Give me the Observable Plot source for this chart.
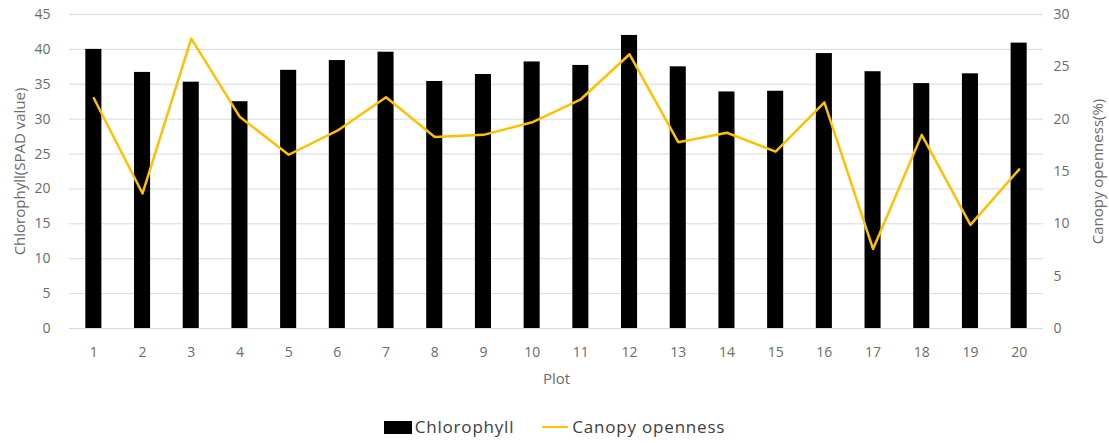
<!DOCTYPE html>
<html>
<head>
<meta charset="utf-8">
<script src="https://cdn.jsdelivr.net/npm/d3@7"></script>
<script src="https://cdn.jsdelivr.net/npm/@observablehq/plot@0.6"></script>
<style>
  body { margin: 0; background: #fff; font-family: "Open Sans", sans-serif; }
  #legend { height: 43px; box-sizing: border-box; padding-top: 17px; display: flex; justify-content: center; align-items: flex-start; font-size: 17px; letter-spacing: 0.8px; color: #404040; line-height: 20px; }
  #legend .item { display: flex; align-items: center; margin: 0 14px; }
  #legend .sw-bar { width: 28px; height: 13px; background: #000; margin-right: 3px; }
  #legend .sw-line { width: 26px; height: 2.5px; background: #FFC000; margin-right: 4px; }
</style>
</head>
<body>
<div id="chart"></div>
<div id="legend">
  <div class="item"><span class="sw-bar"></span>Chlorophyll</div>
  <div class="item"><span class="sw-line"></span>Canopy openness</div>
</div>
<script>
const plots = ["1","2","3","4","5","6","7","8","9","10","11","12","13","14","15","16","17","18","19","20"];
const chlorophyll = [40.0,36.7,35.3,32.5,37.0,38.4,39.6,35.4,36.4,38.2,37.7,42.0,37.5,33.9,34.0,39.4,36.8,35.1,36.5,40.9];
const canopy = [22.0,12.9,27.7,20.2,16.6,18.9,22.1,18.3,18.5,19.7,21.9,26.2,17.8,18.7,16.9,21.6,7.6,18.5,9.9,15.2];
const leftTicks = [0,5,10,15,20,25,30,35,40,45];
const rightTicks = [0,5,10,15,20,25,30];
const ratio = 45 / 30;

const data = plots.map((p, i) => ({plot: p, chl: chlorophyll[i], can: canopy[i]}));
const gray = "#6b6b6b";

const chart = Plot.plot({
  width: 1109,
  height: 400,
  marginTop: 14,
  marginBottom: 72,
  marginLeft: 69,
  marginRight: 66,
  style: {fontFamily: "Open Sans, sans-serif", fontSize: "14px", color: gray},
  x: {domain: plots, paddingInner: 0.67, paddingOuter: 0.335, round: false, label: null},
  y: {domain: [0, 45], label: null},
  marks: [
    Plot.gridY(leftTicks, {stroke: "#d9d9d9", strokeOpacity: 1, strokeWidth: 1}),
    Plot.barY(data, {x: "plot", y: "chl", fill: "#000"}),
    Plot.line(data, {x: "plot", y: d => d.can * ratio, stroke: "#FFC000", strokeWidth: 2.5}),
    Plot.axisY(leftTicks, {anchor: "left", tickSize: 0, tickPadding: 19, label: null, fill: gray, fontSize: 14}),
    Plot.axisY(rightTicks.map(v => v * ratio), {anchor: "right", tickSize: 0, tickPadding: 10, tickFormat: d => String(Math.round(d / ratio)), label: null, fill: gray, fontSize: 14}),
    Plot.axisX({tickSize: 0, tickPadding: 19, label: null, fill: gray, fontSize: 14}),
    Plot.text(["Chlorophyll(SPAD value)"], {frameAnchor: "left", textAnchor: "middle", dx: -49, rotate: -90, fill: gray, fontSize: 15, style: "letter-spacing:0.6px"}),
    Plot.text(["Canopy openness(%)"], {frameAnchor: "right", textAnchor: "middle", dx: 55, rotate: -90, fill: gray, fontSize: 15, style: "letter-spacing:0.6px"}),
    Plot.text(["Plot"], {frameAnchor: "bottom", dy: 55, fill: gray, fontSize: 15})
  ]
});
document.getElementById("chart").appendChild(chart);
</script>
</body>
</html>
